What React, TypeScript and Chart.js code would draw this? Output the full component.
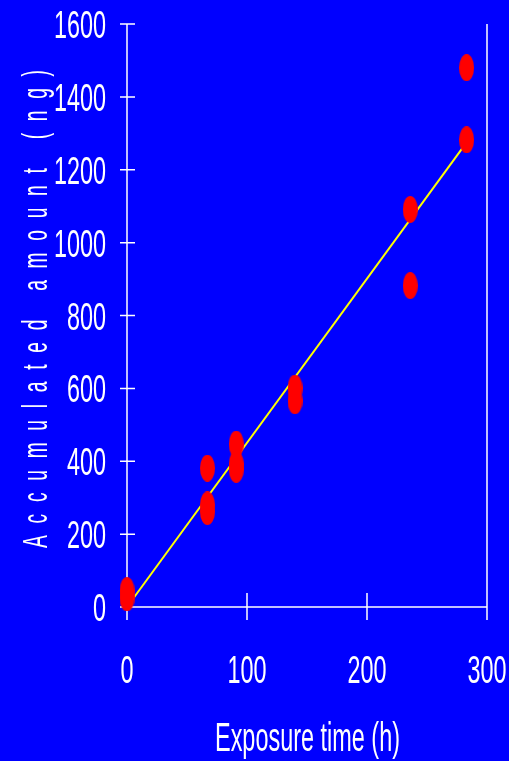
import React, { useEffect, useRef } from "react";
import { Chart, registerables } from "chart.js";

Chart.register(...registerables);

// Measured data (exposure time in hours vs accumulated amount in ng)
const timeHours = [0, 0, 67, 67, 67, 91, 91, 91, 140, 140, 236, 236, 283, 283];
const amountNg = [45, 25, 381, 280, 262, 447, 392, 378, 601, 566, 1091, 882, 1480, 1282];

// Regression line end points
const fitX = [0, 283];
const fitY = [0, 1275];

const xTicks = [0, 100, 200, 300];
const yTicks = [0, 200, 400, 600, 800, 1000, 1200, 1400, 1600];
const xTitle = "Exposure time (h)";
const yTitle = "Accumulated amount (ng)";

const BG = "#0000FF";
const WHITE = "#FFFFFF";
const FONT = "'Liberation Sans', Arial, sans-serif";

function makeEllipse(w: number, h: number, color: string) {
  const c = document.createElement("canvas");
  c.width = w;
  c.height = h;
  const g = c.getContext("2d")!;
  g.fillStyle = color;
  g.beginPath();
  g.ellipse(w / 2, h / 2, w / 2, h / 2, 0, 0, Math.PI * 2);
  g.fill();
  return c;
}

function drawScaled(
  ctx: CanvasRenderingContext2D,
  text: string,
  x: number,
  y: number,
  align: CanvasTextAlign,
  sx: number
) {
  ctx.save();
  ctx.translate(x, y);
  ctx.scale(sx, 1);
  ctx.textAlign = align;
  ctx.textBaseline = "alphabetic";
  ctx.fillText(text, 0, 0);
  ctx.restore();
}

const decorPlugin = {
  id: "decor",
  beforeDraw(chart: any) {
    const ctx = chart.ctx as CanvasRenderingContext2D;
    ctx.save();
    ctx.fillStyle = BG;
    ctx.fillRect(0, 0, chart.width, chart.height);
    ctx.restore();
  },
  beforeDatasetsDraw(chart: any) {
    const ctx = chart.ctx as CanvasRenderingContext2D;
    const xs = chart.scales.x;
    const ys = chart.scales.y;
    const x0 = xs.getPixelForValue(0);
    const x1 = xs.getPixelForValue(300);
    const y0 = ys.getPixelForValue(0);
    const yTop = ys.getPixelForValue(1600);
    ctx.save();
    ctx.strokeStyle = WHITE;
    ctx.lineWidth = 1.5;
    ctx.beginPath();
    // y axis line
    ctx.moveTo(x0, yTop);
    ctx.lineTo(x0, y0 + 13);
    // right border
    ctx.moveTo(x1, yTop);
    ctx.lineTo(x1, y0 + 13);
    // x axis line
    ctx.moveTo(x0 - 7, y0);
    ctx.lineTo(x1, y0);
    // y ticks
    for (const v of yTicks) {
      const py = ys.getPixelForValue(v);
      ctx.moveTo(x0 - 7, py);
      ctx.lineTo(x0 + 8, py);
    }
    // x ticks
    for (const v of xTicks) {
      const px = xs.getPixelForValue(v);
      ctx.moveTo(px, y0 - 14);
      ctx.lineTo(px, y0 + 13);
    }
    ctx.stroke();
    ctx.restore();
  },
  afterDraw(chart: any) {
    const ctx = chart.ctx as CanvasRenderingContext2D;
    const xs = chart.scales.x;
    const ys = chart.scales.y;
    ctx.save();
    ctx.fillStyle = WHITE;
    // tick labels
    ctx.font = `39px ${FONT}`;
    for (const v of yTicks) {
      const py = ys.getPixelForValue(v);
      drawScaled(ctx, String(v), 106, py + 14, "right", 0.6);
    }
    for (const v of xTicks) {
      const px = xs.getPixelForValue(v);
      drawScaled(ctx, String(v), px, 683, "center", 0.6);
    }
    // x title
    ctx.font = `40px ${FONT}`;
    const natW = ctx.measureText(xTitle).width;
    drawScaled(ctx, xTitle, 307.5, 751, "center", 185 / natW);

    // y title: rotated, condensed glyphs with wide spacing
    ctx.font = `35px ${FONT}`;
    const sx = 0.55;
    const chars = Array.from(yTitle);
    const widths = chars.map((ch) => ctx.measureText(ch).width * sx);
    const total = widths.reduce((a, b) => a + b, 0);
    const span = 548 - 70;
    const gap = (span - total) / (chars.length - 1);
    ctx.translate(46.5, 548);
    ctx.rotate(-Math.PI / 2);
    ctx.textAlign = "left";
    ctx.textBaseline = "alphabetic";
    let cx = 0;
    chars.forEach((ch, i) => {
      ctx.save();
      ctx.translate(cx, 0);
      ctx.scale(sx, 1);
      ctx.fillText(ch, 0, 0);
      ctx.restore();
      cx += widths[i] + gap;
    });
    ctx.restore();
  },
};

export default function App() {
  const ref = useRef<HTMLCanvasElement | null>(null);

  useEffect(() => {
    const canvas = ref.current;
    if (!canvas) return;
    const dot = makeEllipse(15, 27, "#FF0000");
    const chart = new Chart(canvas, {
      type: "scatter",
      data: {
        datasets: [
          {
            label: "Measured",
            data: timeHours.map((t, i) => ({ x: t, y: amountNg[i] })),
            pointStyle: dot as any,
            pointRadius: 7,
            pointHoverRadius: 7,
            backgroundColor: "#FF0000",
            borderColor: "#FF0000",
            clip: false as any,
          },
          {
            label: "Fit",
            type: "line" as any,
            data: fitX.map((t, i) => ({ x: t, y: fitY[i] })),
            borderColor: "#FFFF00",
            borderWidth: 2,
            pointRadius: 0,
            showLine: true,
            fill: false,
            clip: false as any,
          },
        ],
      },
      options: {
        responsive: false,
        animation: false,
        devicePixelRatio: 1,
        layout: { padding: { left: 127, right: 22, top: 24, bottom: 154 } },
        plugins: {
          legend: { display: false },
          tooltip: { enabled: false },
          title: { display: false },
        },
        events: [],
        scales: {
          x: { type: "linear", min: 0, max: 300, display: false },
          y: { type: "linear", min: 0, max: 1600, display: false },
        },
      },
      plugins: [decorPlugin],
    });
    return () => chart.destroy();
  }, []);

  return (
    <div style={{ position: "fixed", left: 0, top: 0, width: 509, height: 761, background: BG }}>
      <canvas ref={ref} width={509} height={761} style={{ display: "block" }} />
    </div>
  );
}
